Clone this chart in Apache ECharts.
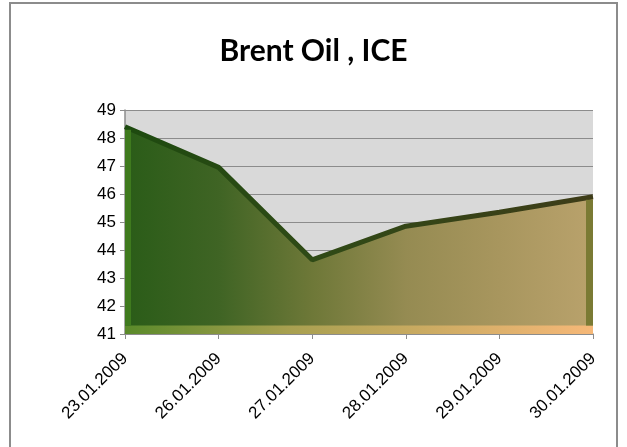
<!DOCTYPE html>
<html>
<head>
<meta charset="UTF-8">
<script src="https://cdn.jsdelivr.net/npm/echarts@6/dist/echarts.min.js"></script>
<title>Brent Oil , ICE</title>
<style>
	html, body { margin: 0; padding: 0; background: #fff; }
	#chart { width: 627px; height: 447px; }
</style>
</head>
<body>
	<div id="chart"></div>
	<script>
		// data
		var dates = ['23.01.2009', '26.01.2009', '27.01.2009', '28.01.2009', '29.01.2009', '30.01.2009'];
		var prices = [48.4, 46.95, 43.65, 44.85, 45.35, 45.9];
		var yMin = 41, yMax = 49, yStep = 1;

		var chart = echarts.init(document.getElementById('chart'));

		var frame = {
			type: 'rect',
			shape: { x: 10, y: 3, width: 607, height: 460 },
			style: { fill: 'none', stroke: '#8c8c8c', lineWidth: 2 },
			silent: true
		};

		var option = {
			animation: false,
			backgroundColor: '#ffffff',
			title: {
				text: 'Brent Oil , ICE',
				left: 'center',
				top: 31,
				textStyle: {
					fontFamily: 'Lato',
					fontWeight: 'bold',
					fontSize: 30,
					color: '#000'
				}
			},
			graphic: [frame],
			grid: {
				left: 125,
				right: 34,
				top: 110,
				bottom: 113,
				show: true,
				backgroundColor: '#d9d9d9',
				borderWidth: 0
			},
			xAxis: {
				type: 'category',
				boundaryGap: false,
				data: dates,
				axisLine: { lineStyle: { color: '#8c8c8c', width: 1.5 } },
				axisTick: { show: true, length: 5, lineStyle: { color: '#8c8c8c' } },
				axisLabel: {
					rotate: 45,
					margin: 22,
					fontFamily: 'Liberation Sans',
					fontSize: 17,
					color: '#000',
					interval: 0
				}
			},
			yAxis: {
				type: 'value',
				min: yMin,
				max: yMax,
				interval: yStep,
				axisLine: { show: true, lineStyle: { color: '#8c8c8c', width: 1.5 } },
				axisTick: { show: true, length: 5, lineStyle: { color: '#8c8c8c' } },
				axisLabel: {
					margin: 9,
					fontFamily: 'Liberation Sans',
					fontSize: 17,
					color: '#000'
				},
				splitLine: { lineStyle: { color: '#8c8c8c', width: 1.2 } }
			},
			series: [{
				name: 'Brent Oil',
				type: 'line',
				data: prices,
				symbol: 'none',
				lineStyle: {
					width: 5,
					color: new echarts.graphic.LinearGradient(0, 0, 1, 0, [
						{ offset: 0, color: '#1d4a0f' },
						{ offset: 0.4, color: '#2f4a16' },
						{ offset: 1, color: '#3e3c18' }
					])
				},
				areaStyle: {
					opacity: 1,
					origin: 'start',
					color: new echarts.graphic.LinearGradient(0, 0, 1, 0, [
						{ offset: 0, color: '#2a5c18' },
						{ offset: 0.2, color: '#3f6424' },
						{ offset: 0.4, color: '#6e7838' },
						{ offset: 0.6, color: '#958b52' },
						{ offset: 0.8, color: '#a8965e' },
						{ offset: 1, color: '#b9a26c' }
					])
				}
			}]
		};

		chart.setOption(option);

		// bevel strips placed through the chart's own scales
		var p0 = chart.convertToPixel({ seriesIndex: 0 }, [0, yMin]);
		var p1 = chart.convertToPixel({ seriesIndex: 0 }, [dates.length - 1, yMin + 0.3]);
		var pl = chart.convertToPixel({ seriesIndex: 0 }, [0, prices[0]]);
		var pr = chart.convertToPixel({ seriesIndex: 0 }, [dates.length - 1, prices[prices.length - 1]]);
		chart.setOption({
			graphic: [frame, {
				type: 'rect',
				z: 10,
				silent: true,
				shape: { x: p0[0], y: p1[1], width: p1[0] - p0[0], height: p0[1] - p1[1] },
				style: {
					fill: new echarts.graphic.LinearGradient(0, 0, 1, 0, [
						{ offset: 0, color: '#5a8a2a' },
						{ offset: 0.35, color: '#a8a050' },
						{ offset: 1, color: '#f6b878' }
					])
				}
			}, {
				type: 'rect',
				z: 10,
				silent: true,
				shape: { x: p0[0], y: pl[1] + 3, width: 6, height: p1[1] - pl[1] - 3 },
				style: { fill: '#3f7a1e' }
			}, {
				type: 'rect',
				z: 10,
				silent: true,
				shape: { x: pr[0] - 7, y: pr[1] + 3, width: 7, height: p1[1] - pr[1] - 3 },
				style: { fill: '#7a7a34' }
			}]
		});
	</script>
</body>
</html>
